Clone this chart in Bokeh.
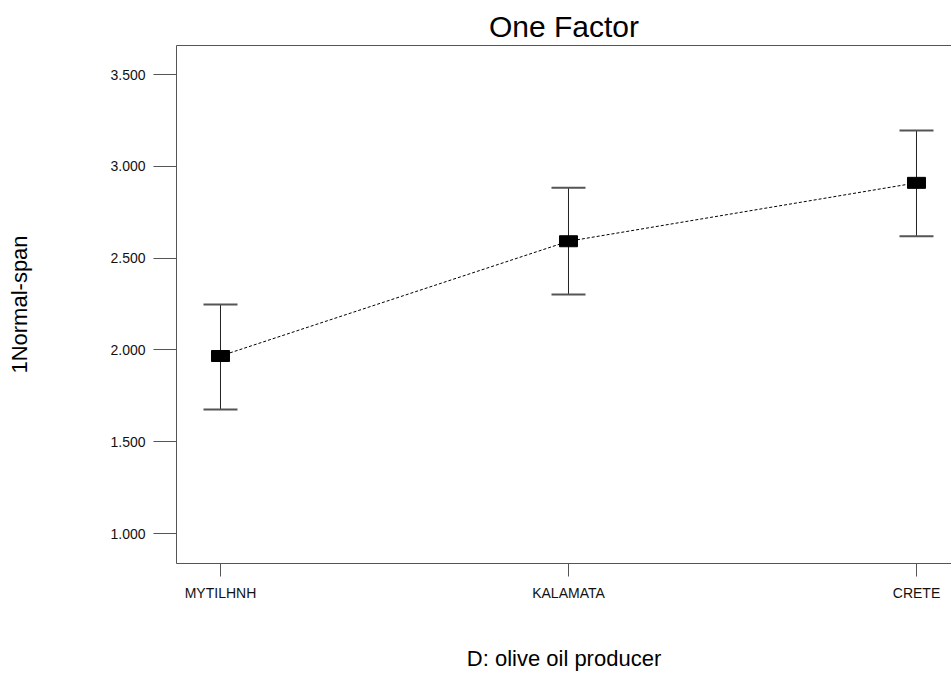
from bokeh.plotting import figure
from bokeh.models import (FixedTicker, PrintfTickFormatter, LinearAxis, Range1d,
                          Whisker, TeeHead, ColumnDataSource)
from bokeh.embed import file_html
from bokeh.resources import INLINE

# ---- data ----
categories = ["MYTILHNH", "KALAMATA", "CRETE"]
means = [1.967, 2.592, 2.910]
upper = [2.247, 2.883, 3.195]
lower = [1.675, 2.302, 2.619]
y_ticks = [1.0, 1.5, 2.0, 2.5, 3.0, 3.5]

FONT = "Liberation Sans"
xs = list(range(len(categories)))

src = ColumnDataSource(dict(x=xs, mean=means, upper=upper, lower=lower))

p = figure(width=951, height=673, output_backend="svg", toolbar_location=None,
           x_range=Range1d(-0.1264, 2.1006), y_range=Range1d(0.837, 3.658),
           min_border_left=176, min_border_right=0, min_border_top=45,
           min_border_bottom=110, title="One Factor")

p.outline_line_color = None
p.grid.visible = False
p.background_fill_color = "white"
p.border_fill_color = "white"

p.title.text_font = FONT
p.title.text_font_size = "30px"
p.title.text_font_style = "normal"
p.title.align = "center"
p.title.text_color = "black"
p.title.standoff = 6

AX = "#555555"
# x axis
xa = p.xaxis[0]
xa.ticker = FixedTicker(ticks=xs)
xa.major_label_overrides = {i: c for i, c in enumerate(categories)}
xa.axis_label = "D: olive oil producer"
xa.axis_label_text_font = FONT
xa.axis_label_text_font_size = "22px"
xa.axis_label_text_font_style = "normal"
xa.axis_label_text_color = "black"
xa.axis_label_standoff = 42
xa.major_label_text_font = FONT
xa.major_label_text_font_size = "14px"
xa.major_label_text_color = "#111111"
xa.major_label_standoff = 8
xa.major_tick_in = 0
xa.major_tick_out = 13
xa.minor_tick_line_color = None
xa.axis_line_color = AX
xa.major_tick_line_color = AX

# y axis
ya = p.yaxis[0]
ya.ticker = FixedTicker(ticks=y_ticks)
ya.formatter = PrintfTickFormatter(format="%.3f")
ya.axis_label = "1Normal-span"
ya.axis_label_text_font = FONT
ya.axis_label_text_font_size = "22px"
ya.axis_label_text_font_style = "normal"
ya.axis_label_text_color = "black"
ya.axis_label_standoff = 75
ya.major_label_text_font = FONT
ya.major_label_text_font_size = "14px"
ya.major_label_text_color = "#111111"
ya.major_label_standoff = 8
ya.major_tick_in = 0
ya.major_tick_out = 23
ya.minor_tick_line_color = None
ya.axis_line_color = AX
ya.major_tick_line_color = AX

# top border line
top = LinearAxis(ticker=FixedTicker(ticks=[]), major_label_text_font_size="0px",
                 major_tick_line_color=None, minor_tick_line_color=None,
                 axis_line_color=AX)
p.add_layout(top, "above")

# connecting dashed line
p.line("x", "mean", source=src, line_color="black", line_width=1, line_dash="3 2")

# error bars
w = Whisker(base="x", upper="upper", lower="lower", source=src,
            line_color="#222222", line_width=1,
            upper_head=TeeHead(size=34, line_color="#555555", line_width=2),
            lower_head=TeeHead(size=34, line_color="#555555", line_width=2))
p.add_layout(w)

# mean markers
p.rect("x", "mean", source=src, width=18, height=11, width_units="screen",
       height_units="screen", fill_color="black", line_color="black")

open("out.html", "w").write(file_html(p, INLINE))
